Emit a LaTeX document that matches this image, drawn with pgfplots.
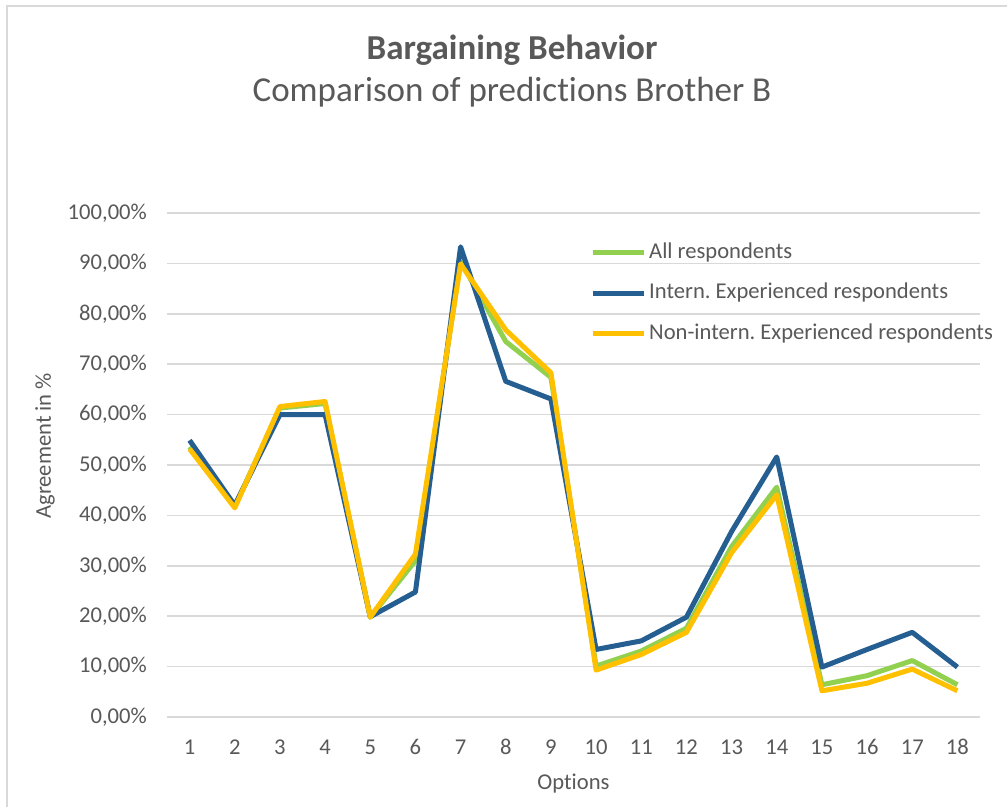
\documentclass[border=0pt]{standalone}
\usepackage{fontspec}
\setmainfont{Carlito}[Ligatures=NoCommon]
\usepackage{pgfplots}
\usepackage{pgfplotstable}
\pgfplotsset{compat=1.18}
\frenchspacing
\definecolor{txt}{HTML}{595959}
\definecolor{gridc}{HTML}{D9D9D9}
\definecolor{sgreen}{HTML}{92D050}
\definecolor{sblue}{HTML}{255E91}
\definecolor{syellow}{HTML}{FFC000}

\pgfplotstableread{
x all intern nonintern
1  53.6 54.9 53.2
2  41.7 42.0 41.5
3  61.3 60.0 61.6
4  62.2 60.0 62.6
5  19.8 19.9 19.8
6  31.0 24.8 32.3
7  90.4 93.3 89.9
8  74.5 66.6 76.8
9  67.4 63.1 68.3
10 10.1 13.4 9.3
11 13.1 15.1 12.4
12 17.6 19.8 16.8
13 33.8 36.8 32.6
14 45.6 51.6 44.1
15 6.4  9.9  5.2
16 8.2  13.4 6.7
17 11.2 16.8 9.5
18 6.4  9.9  5.2
}\datatable

\begin{document}
\frenchspacing
\begin{tikzpicture}[x=1pt,y=1pt]
\useasboundingbox (0,0) rectangle (1007,807);
\fill[white] (0,0) rectangle (1007,807);
\draw[gridc, line width=2pt] (7,0) -- (7,801) -- (1007,801);
\node[txt, font=\fontsize{35}{40}\selectfont\bfseries, anchor=base] at (512,747) {Bargaining Behavior};
\node[txt, font=\fontsize{35}{40}\selectfont, anchor=base] at (512,705) {Comparison of predic\kern0pt tions Brother B};
\begin{axis}[
  at={(167pt,90pt)}, anchor=south west,
  scale only axis, width=813pt, height=504pt,
  xmin=0.5, xmax=18.5, ymin=0, ymax=100,
  xtick={1,...,18}, ytick={0,10,...,100},
  /pgf/number format/assume math mode=true,
  yticklabel={\pgfmathprintnumber[fixed,fixed zerofill,precision=2,use comma]{\tick}\%},
  axis line style={draw=none},
  major tick length=0pt,
  ymajorgrids,
  grid style={gridc, line width=1.5pt},
  tick label style={txt, font=\fontsize{22.6}{27}\selectfont},
  yticklabel style={anchor=east, inner sep=0pt, xshift=-20pt},
  xticklabel style={anchor=center, inner sep=0pt, yshift=-30pt},
  xlabel={Options}, ylabel={Agreement in \%},
  label style={txt, font=\fontsize{22.6}{27}\selectfont},
  xlabel style={at={(axis description cs:0.5,-0.132)}, anchor=center},
  ylabel style={at={(axis description cs:-0.150,0.538)}, anchor=center},
  legend cell align=left,
  legend image code/.code={\draw[#1] (0pt,0pt) -- (51pt,0pt);},
  legend style={at={(rel axis cs:0.5203,0.942)}, anchor=north west, draw=none, fill=none,
    inner sep=0pt, row sep=19.5pt, text=txt, font=\fontsize{22.6}{27}\selectfont,
    nodes={inner sep=0pt, text height=16pt, text depth=5pt},
    /tikz/every odd column/.append style={column sep=3pt}},
  every axis plot/.append style={line width=5pt, line join=round, no marks},
]
\addplot[sgreen] table[x=x, y=all] {\datatable};
\addlegendentry{All respondents}
\addplot[sblue] table[x=x, y=intern] {\datatable};
\addlegendentry{Intern. Experienced respondents}
\addplot[syellow] table[x=x, y=nonintern] {\datatable};
\addlegendentry{Non-intern. Experienced respondents}
\end{axis}
\end{tikzpicture}
\end{document}
